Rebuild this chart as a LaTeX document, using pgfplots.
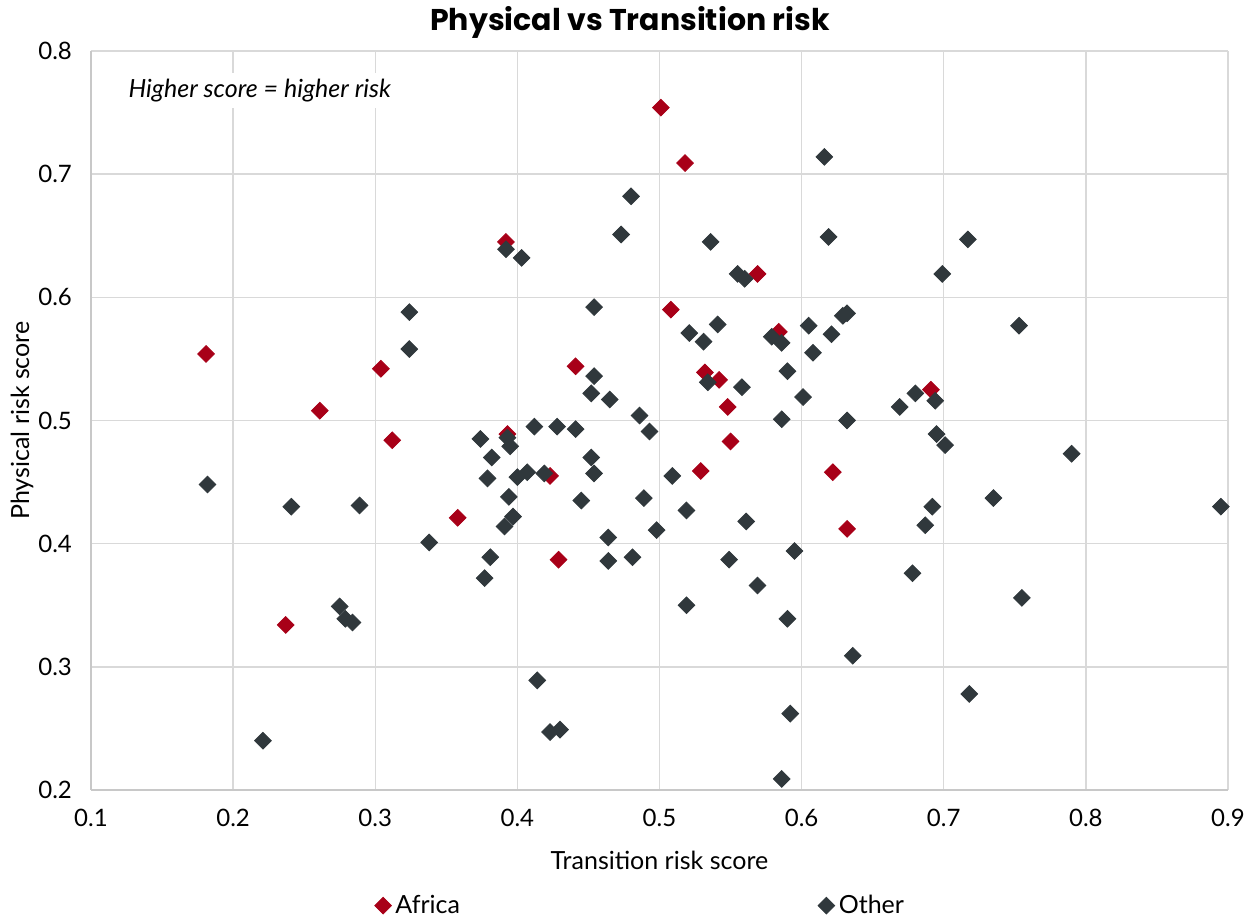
\documentclass[border=0pt]{standalone}
\usepackage{fontspec}
\setmainfont{Lato}
\newfontfamily\titlefont{Poppins}
\usepackage{pgfplots}
\usepackage{pgfplotstable}
\pgfplotsset{compat=1.18}
\definecolor{afr}{RGB}{168,0,24}
\definecolor{oth}{RGB}{48,56,60}
\definecolor{gridc}{RGB}{217,217,217}
\definecolor{axc}{RGB}{200,200,200}

\pgfplotstableread{
x y
0.181 0.554
0.304 0.542
0.261 0.508
0.501 0.754
0.518 0.709
0.392 0.645
0.569 0.619
0.508 0.590
0.584 0.572
0.441 0.544
0.532 0.539
0.542 0.533
0.548 0.511
0.691 0.525
0.312 0.484
0.358 0.421
0.237 0.334
0.393 0.489
0.423 0.455
0.529 0.459
0.550 0.483
0.622 0.458
0.632 0.412
0.429 0.387
}\africa

\pgfplotstableread{
x y
0.324 0.588
0.324 0.558
0.616 0.714
0.480 0.682
0.473 0.651
0.392 0.639
0.403 0.632
0.536 0.645
0.619 0.649
0.555 0.619
0.560 0.615
0.454 0.592
0.521 0.571
0.541 0.578
0.531 0.564
0.579 0.568
0.586 0.563
0.605 0.577
0.621 0.570
0.629 0.585
0.632 0.587
0.608 0.555
0.454 0.536
0.452 0.522
0.465 0.517
0.486 0.504
0.534 0.531
0.558 0.527
0.590 0.540
0.601 0.519
0.586 0.501
0.632 0.500
0.717 0.647
0.699 0.619
0.753 0.577
0.680 0.522
0.694 0.516
0.669 0.511
0.182 0.448
0.241 0.430
0.289 0.431
0.338 0.401
0.275 0.349
0.279 0.339
0.284 0.336
0.221 0.240
0.374 0.485
0.393 0.486
0.395 0.479
0.412 0.495
0.428 0.495
0.441 0.493
0.382 0.470
0.379 0.453
0.400 0.454
0.407 0.458
0.419 0.457
0.452 0.470
0.454 0.457
0.493 0.491
0.394 0.438
0.445 0.435
0.489 0.437
0.397 0.422
0.391 0.414
0.464 0.405
0.498 0.411
0.509 0.455
0.519 0.427
0.561 0.418
0.381 0.389
0.377 0.372
0.464 0.386
0.481 0.389
0.549 0.387
0.595 0.394
0.569 0.366
0.519 0.350
0.590 0.339
0.636 0.309
0.414 0.289
0.423 0.247
0.430 0.249
0.592 0.262
0.586 0.209
0.695 0.489
0.701 0.480
0.790 0.473
0.735 0.437
0.692 0.430
0.687 0.415
0.895 0.430
0.678 0.376
0.755 0.356
0.718 0.278
}\other

\begin{document}
\begin{tikzpicture}
\begin{axis}[
  scale only axis,
  width=568.5pt, height=369.5pt,
  xmin=0.1, xmax=0.9, ymin=0.2, ymax=0.8,
  xtick={0.1,0.2,...,0.9}, ytick={0.2,0.3,...,0.8},
  xticklabels={0.1,0.2,0.3,0.4,0.5,0.6,0.7,0.8,0.9},
  yticklabels={0.2,0.3,0.4,0.5,0.6,0.7,0.8},
  grid=major,
  major grid style={gridc, line width=0.7pt},
  axis line style={axc, line width=0.8pt},
  axis x line=bottom, axis y line=left,
  axis line style={-},
  major tick length=0pt,
  tick label style={font=\fontsize{12}{14}\selectfont, text=black},
  xticklabel shift=6pt,
  yticklabel shift=6pt,
  /pgf/number format/assume math mode=true,
  xlabel={Transition risk score},
  ylabel={Physical risk score},
  label style={font=\fontsize{12.5}{15}\selectfont},
  xlabel style={at={(axis description cs:0.5,-0.0947)}, anchor=center},
  ylabel style={at={(axis description cs:-0.0607,0.5)}, anchor=center},
  legend columns=2,
  legend style={draw=none, fill=none, at={(axis description cs:0.244,-0.1565)}, anchor=west,
    font=\fontsize{12.5}{15}\selectfont, /tikz/every even column/.append style={column sep=177pt}},
  legend cell align=left,
  clip=false,
]
\addplot[only marks, mark=square*, mark size=2.95pt, mark options={rotate=45, fill=afr, draw=afr}] table[x=x,y=y]{\africa};
\addlegendentry{Africa}
\addplot[only marks, mark=square*, mark size=2.95pt, mark options={rotate=45, fill=oth, draw=oth}] table[x=x,y=y]{\other};
\addlegendentry{Other}
\node[fill=white, anchor=west, inner sep=3pt, font=\itshape\fontsize{12.5}{15}\selectfont] at (axis cs:0.122,0.768) {Higher score = higher risk};
\node[font=\titlefont\bfseries\fontsize{15}{18}\selectfont] at (axis description cs:0.474,1.039) {Physical vs Transition risk};
\coordinate (bl) at (axis description cs:-0.0800,-0.1746);
\coordinate (tr) at (axis description cs:1.0229,1.0690);
\end{axis}
\pgfresetboundingbox
\path[use as bounding box] (bl) rectangle (tr);
\end{tikzpicture}
\end{document}
